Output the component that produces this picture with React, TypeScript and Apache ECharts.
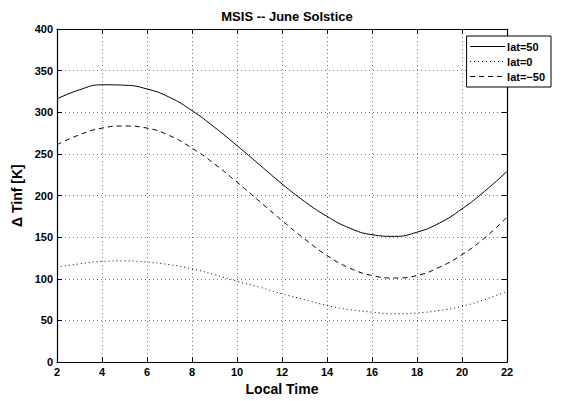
import React, { useEffect, useRef } from "react";
import * as echarts from "echarts";

const hours = [2, 3, 4, 5, 6, 7, 8, 9, 10, 11, 12, 13, 14, 15, 16, 17, 18, 19, 20, 21, 22];
const lat50 = [316, 327, 333, 332.5, 328, 318, 302, 282, 260, 237, 214, 193, 175, 161, 153, 151, 156, 167, 184, 205, 229];
const lat0 = [114, 118, 121, 121.5, 120, 117, 112, 105, 97, 90, 82, 75, 68, 63, 60, 58, 59, 62, 67, 75, 85];
const latm50 = [261, 273, 281, 283.5, 281, 272, 257, 238, 216, 193, 170, 148, 128, 113, 104, 101, 104, 114, 129, 149, 174];

const FONT = "Liberation Sans, Arial, sans-serif";

export default function App() {
  const ref = useRef<HTMLDivElement>(null);
  useEffect(() => {
    const chart = echarts.init(ref.current!, null, { renderer: "svg" });
    const pairs = (ys: number[]) => hours.map((h, i) => [h, ys[i]]);
    const baseX = { type: "value" as const, min: 2, max: 22, interval: 2 };
    const baseY = { type: "value" as const, min: 0, max: 400, interval: 50 };
    const frameLine = { show: true, onZero: false, lineStyle: { color: "#000", width: 1.2 } };
    const tick = { show: true, inside: true, length: 5, lineStyle: { color: "#000" } };
    const grid = { show: true, lineStyle: { color: "#777", type: [1, 3], width: 1 } };
    const label = { fontFamily: FONT, fontWeight: "bold", fontSize: 11, color: "#000", margin: 4 };
    const nameStyle = { fontFamily: FONT, fontWeight: "bold", fontSize: 14, color: "#000" };
    chart.setOption({
      animation: false,
      backgroundColor: "#fff",
      title: {
        text: "MSIS -- June Solstice",
        left: 282,
        textAlign: "center",
        top: 5,
        textStyle: { fontFamily: FONT, fontWeight: "bold", fontSize: 13, color: "#000" },
      },
      grid: { left: 57, right: 62, top: 29, bottom: 34 },
      legend: {
        orient: "vertical",
        right: 18,
        top: 36,
        backgroundColor: "#fff",
        borderColor: "#000",
        borderWidth: 1,
        borderRadius: 0,
        padding: [5, 6, 5, 3],
        itemGap: 4,
        itemWidth: 35,
        itemHeight: 10,
        itemStyle: { opacity: 0 },
        lineStyle: { width: 1 },
        textStyle: { fontFamily: FONT, fontWeight: "bold", fontSize: 11, color: "#000", padding: [0, 0, 0, -3] },
        data: ["lat=50", "lat=0", "lat=\u221250"],
      },
      xAxis: [
        {
          ...baseX,
          position: "bottom",
          name: "Local Time",
          nameLocation: "middle",
          nameGap: 18,
          nameTextStyle: nameStyle,
          axisLine: frameLine,
          axisTick: tick,
          axisLabel: label,
          splitLine: grid,
        },
        {
          ...baseX,
          position: "top",
          axisLine: frameLine,
          axisTick: tick,
          axisLabel: { show: false },
          splitLine: { show: false },
        },
      ],
      yAxis: [
        {
          ...baseY,
          position: "left",
          name: "\u0394 Tinf [K]",
          nameLocation: "middle",
          nameGap: 30,
          nameRotate: 90,
          nameTextStyle: nameStyle,
          axisLine: frameLine,
          axisTick: tick,
          axisLabel: label,
          splitLine: grid,
        },
        {
          ...baseY,
          position: "right",
          axisLine: frameLine,
          axisTick: tick,
          axisLabel: { show: false },
          splitLine: { show: false },
        },
      ],
      series: [
        {
          name: "lat=50",
          type: "line",
          smooth: true,
          symbol: "none",
          data: pairs(lat50),
          lineStyle: { color: "#000", width: 1, type: "solid" },
          itemStyle: { color: "#000" },
        },
        {
          name: "lat=0",
          type: "line",
          smooth: true,
          symbol: "none",
          data: pairs(lat0),
          lineStyle: { color: "#000", width: 1, type: [1, 3] },
          itemStyle: { color: "#000" },
        },
        {
          name: "lat=\u221250",
          type: "line",
          smooth: true,
          symbol: "none",
          data: pairs(latm50),
          lineStyle: { color: "#000", width: 1, type: [5, 4] },
          itemStyle: { color: "#000" },
        },
      ],
    });
    return () => chart.dispose();
  }, []);
  return <div ref={ref} style={{ width: 569, height: 401, position: "absolute", left: 0, top: 0 }} />;
}
